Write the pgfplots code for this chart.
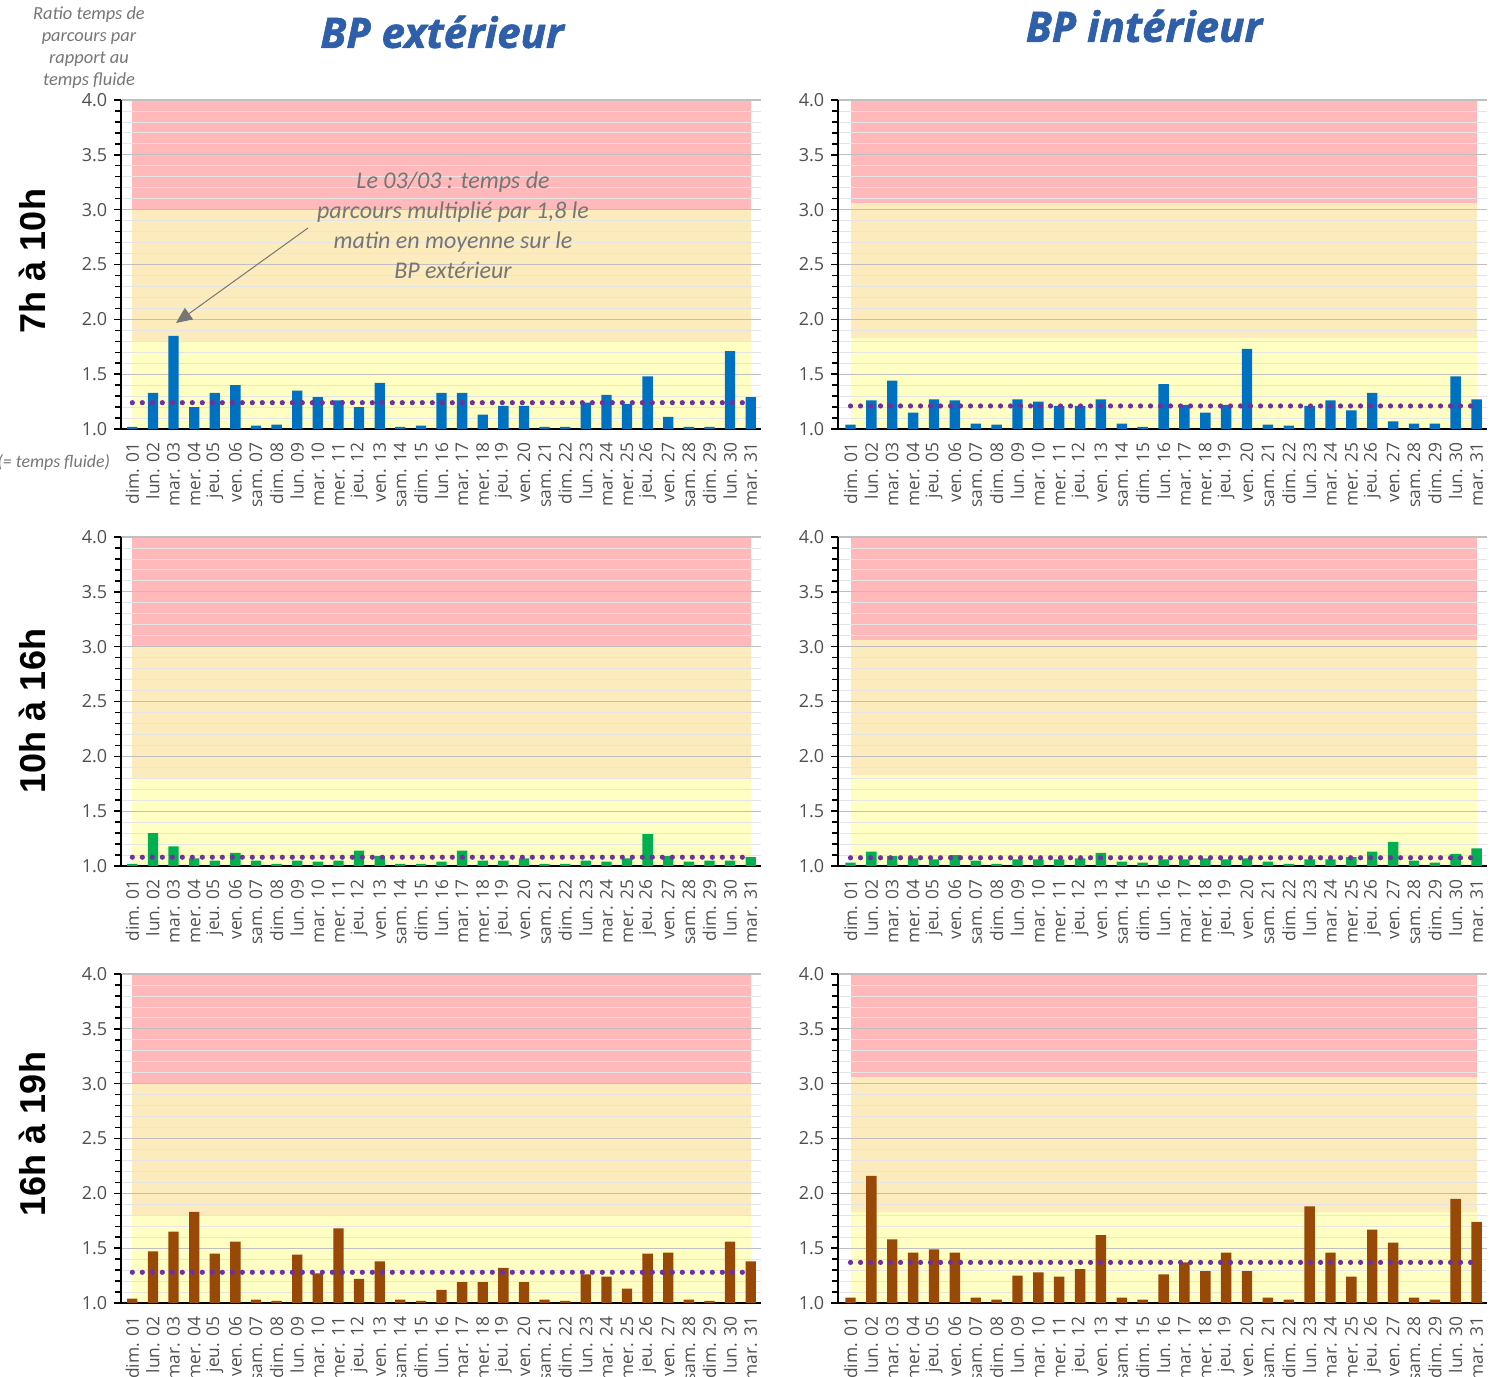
\documentclass[border=0pt]{standalone}
\usepackage{pgfplots}
\pgfplotsset{compat=1.18}
\usepackage{pgfplotstable}
\usetikzlibrary{arrows.meta}
\usepackage{fontspec}
\setmainfont{Open Sans}
\newfontfamily\carl{Carlito}
\newfontfamily\arialb{Liberation Sans}
\newfontfamily\titlefont{Open Sans}[BoldItalicFeatures={FakeBold=1.5}]

\definecolor{bandR}{RGB}{255,185,186}
\definecolor{bandO}{RGB}{252,235,189}
\definecolor{bandY}{RGB}{255,255,196}
\definecolor{barB}{RGB}{0,112,192}
\definecolor{barG}{RGB}{0,176,80}
\definecolor{barM}{RGB}{152,72,7}
\definecolor{avgP}{RGB}{112,48,160}
\definecolor{labgray}{RGB}{80,80,80}
\definecolor{notegray}{RGB}{118,118,118}
\definecolor{titleblue}{RGB}{47,95,168}

% ratio temps de parcours / temps fluide, par jour (mars)
% e = BP exterieur, i = BP interieur ; 1 = 7h-10h, 2 = 10h-16h, 3 = 16h-19h
\pgfplotstableread{
d  e1   i1   e2   i2   e3   i3
1  1.02 1.04 1.02 1.03 1.04 1.05
2  1.33 1.26 1.30 1.13 1.47 2.16
3  1.85 1.44 1.18 1.09 1.65 1.58
4  1.20 1.15 1.07 1.07 1.83 1.46
5  1.33 1.27 1.05 1.06 1.45 1.49
6  1.40 1.26 1.12 1.10 1.56 1.46
7  1.03 1.05 1.05 1.05 1.03 1.05
8  1.04 1.04 1.02 1.02 1.02 1.03
9  1.35 1.27 1.05 1.06 1.44 1.25
10 1.29 1.25 1.04 1.06 1.27 1.28
11 1.26 1.21 1.05 1.06 1.68 1.24
12 1.20 1.21 1.14 1.07 1.22 1.31
13 1.42 1.27 1.09 1.12 1.38 1.62
14 1.02 1.05 1.02 1.04 1.03 1.05
15 1.03 1.02 1.02 1.03 1.02 1.03
16 1.33 1.41 1.04 1.06 1.12 1.26
17 1.33 1.22 1.14 1.06 1.19 1.37
18 1.13 1.15 1.05 1.07 1.19 1.29
19 1.21 1.22 1.05 1.06 1.32 1.46
20 1.21 1.73 1.07 1.07 1.19 1.29
21 1.02 1.04 1.02 1.04 1.03 1.05
22 1.02 1.03 1.02 1.02 1.02 1.03
23 1.24 1.21 1.05 1.06 1.26 1.88
24 1.31 1.26 1.04 1.06 1.24 1.46
25 1.23 1.17 1.07 1.08 1.13 1.24
26 1.48 1.33 1.29 1.13 1.45 1.67
27 1.11 1.07 1.09 1.22 1.46 1.55
28 1.02 1.05 1.04 1.05 1.03 1.05
29 1.02 1.05 1.05 1.03 1.02 1.03
30 1.71 1.48 1.05 1.11 1.56 1.95
31 1.29 1.27 1.08 1.16 1.38 1.74
}\data

\pgfplotsset{
  frame/.style={scale only axis, height=164.5pt, ymin=1, ymax=4},
  panel/.style={
    frame,
    ytick={1,1.5,...,4}, minor y tick num=4,
    xtick={1,...,31},
    xticklabels={dim. 01,lun. 02,mar. 03,mer. 04,jeu. 05,ven. 06,sam. 07,
      dim. 08,lun. 09,mar. 10,mer. 11,jeu. 12,ven. 13,sam. 14,dim. 15,lun. 16,
      mar. 17,mer. 18,jeu. 19,ven. 20,sam. 21,dim. 22,lun. 23,mar. 24,mer. 25,
      jeu. 26,ven. 27,sam. 28,dim. 29,lun. 30,mar. 31},
    xticklabel style={rotate=90, anchor=east, text=labgray,
      font=\fontsize{8.7}{9}\selectfont},
    yticklabel style={text=labgray, font=\fontsize{9}{9}\selectfont,
      /pgf/number format/fixed, /pgf/number format/fixed zerofill,
      /pgf/number format/precision=1},
    /pgf/number format/assume math mode=true,
    axis lines=left, axis line style={-, black, line width=1pt},
    xtick style={draw=none},
    ytick style={black, line width=0.7pt},
    major tick length=3.4pt, minor tick length=2.8pt, tick align=outside,
    ymajorgrids, yminorgrids,
    major grid style={black!25, line width=0.6pt},
    minor grid style={black!10, line width=0.4pt},
  },
}

% one panel: #1 x pos, #2 y pos, #3 column, #4 bar colour, #5 mean,
% #6 red threshold, #7 orange threshold, #8 xmin, #9 width
\newcommand\panel[9]{%
  % background bands in their own axis so that the grid lies above them
  \begin{axis}[frame, at={(#1,#2)}, anchor=south west,
      xmin=#8, xmax=31.5, width=#9, axis lines=none, ticks=none]
    \addplot[draw=none, fill=bandY] coordinates {(1,1) (1,#7) (31,#7) (31,1)};
    \addplot[draw=none, fill=bandO] coordinates {(1,#7) (1,#6) (31,#6) (31,#7)};
    \addplot[draw=none, fill=bandR] coordinates {(1,#6) (1,4) (31,4) (31,#6)};
  \end{axis}
  \begin{axis}[panel, at={(#1,#2)}, anchor=south west,
      xmin=#8, xmax=31.5, width=#9]
    \addplot[ybar, bar width=0.5, fill=#4, draw=none] table[x=d, y=#3] {\data};
    \addplot[draw=avgP, line width=2.6pt, line cap=round,
      dash pattern=on 0pt off 5pt] coordinates {(1,#5) (31,#5)};
  \end{axis}}

\begin{document}
\begin{tikzpicture}
\useasboundingbox (0pt,0pt) rectangle (745pt,688.5pt);

\panel{60.5pt}{474pt}{e1}{barB}{1.24}{3.0}{1.8}{0.45}{320pt}
\panel{419pt}{474pt}{i1}{barB}{1.21}{3.06}{1.83}{0.4}{324.5pt}
\panel{60.5pt}{255.5pt}{e2}{barG}{1.08}{3.0}{1.8}{0.45}{320pt}
\panel{419pt}{255.5pt}{i2}{barG}{1.075}{3.06}{1.83}{0.4}{324.5pt}
\panel{60.5pt}{37pt}{e3}{barM}{1.28}{3.0}{1.8}{0.45}{320pt}
\panel{419pt}{37pt}{i3}{barM}{1.37}{3.06}{1.83}{0.4}{324.5pt}

% titles
\node[font=\titlefont\fontsize{21}{24}\selectfont\bfseries\itshape, text=titleblue]
  at (221pt,672.5pt) {BP extérieur};
\node[font=\titlefont\fontsize{21}{24}\selectfont\bfseries\itshape, text=titleblue]
  at (572pt,675.5pt) {BP intérieur};

% row labels
\node[rotate=90, font=\arialb\fontsize{18}{20}\selectfont\bfseries]
  at (16pt,558pt) {7h à 10h};
\node[rotate=90, font=\arialb\fontsize{18}{20}\selectfont\bfseries]
  at (16pt,333pt) {10h à 16h};
\node[rotate=90, font=\arialb\fontsize{18}{20}\selectfont\bfseries]
  at (16pt,121.5pt) {16h à 19h};

% axis note
\node[align=center, text=notegray, font=\carl\itshape\fontsize{9.2}{11}\selectfont]
  at (44.5pt,664.5pt) {Ratio temps de\\parcours par\\rapport au\\temps fluide};
\node[anchor=east, text=notegray, font=\carl\itshape\fontsize{8.9}{10}\selectfont]
  at (58.5pt,457.5pt) {(= temps fluide)};

% annotation
\node[align=center, text=notegray, font=\carl\itshape\fontsize{12}{15}\selectfont]
  at (226.5pt,576pt) {Le 03/03 : temps de\\parcours multiplié par 1,8 le\\matin en moyenne sur le\\BP extérieur};
\draw[notegray, line width=0.5pt, -{Triangle[length=8pt, width=7pt]}]
  (154pt,574.5pt) -- (88pt,527pt);
\end{tikzpicture}
\end{document}
